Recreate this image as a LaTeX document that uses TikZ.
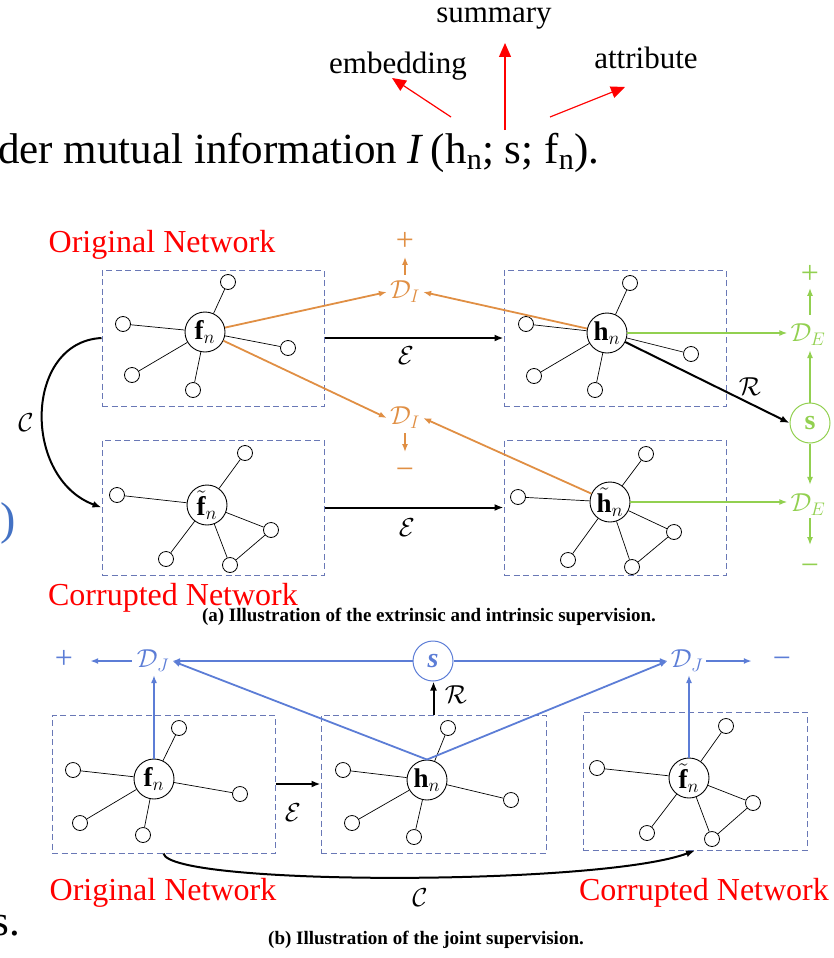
\RequirePackage{fix-cm}
\documentclass[tikz,border=0pt]{standalone}
\usepackage{amsmath}
\usepackage{fontspec}
\setmainfont{Liberation Serif}
\usetikzlibrary{arrows.meta}
\definecolor{orng}{RGB}{224,143,68}
\definecolor{grn}{RGB}{146,208,80}
\definecolor{blu}{RGB}{92,125,214}
\definecolor{boxc}{RGB}{105,120,182}
\definecolor{parenb}{RGB}{68,114,196}
\begin{document}
\begin{tikzpicture}[x=1pt,y=-1pt,
 hub/.style={circle,draw,line width=0.9pt,minimum size=40pt,inner sep=0pt,font=\fontsize{27}{31}\selectfont},
 sat/.style={circle,draw,line width=0.8pt,minimum size=15pt,inner sep=0pt},
 netbox/.style={draw=boxc,dash pattern=on 6pt off 3.5pt,line width=1pt,inner sep=0pt},
 ln/.style={line width=0.7pt},
 blk/.style={line width=2pt,-{Latex[length=9pt,width=7pt]}},
 oarr/.style={draw=orng,line width=1.8pt,-{Latex[length=8pt,width=6pt]}},
 garr/.style={draw=grn,line width=1.8pt,-{Latex[length=8pt,width=6pt]}},
 barr/.style={draw=blu,line width=1.8pt,-{Latex[length=8pt,width=6pt]}},
 lab/.style={font=\fontsize{26}{30}\selectfont,inner xsep=3pt,inner ysep=1pt},
 pm/.style={font=\fontsize{32}{36}\selectfont,inner xsep=3pt,inner ysep=0pt,text height=21.4pt,text depth=0pt},
 redt/.style={text=red,font=\fontsize{32}{36}\selectfont,inner sep=0pt},
 capt/.style={font=\fontsize{19}{23}\selectfont\bfseries,inner sep=0pt},
 topw/.style={font=\fontsize{31}{35}\selectfont,inner sep=0pt},
 bigt/.style={font=\fontsize{43}{49}\selectfont,inner sep=0pt},
 rarr/.style={draw=red,line width=1.2pt,-{Triangle[length=14pt,width=12pt]}},
 sroot/.style={circle,line width=1pt,minimum size=40pt,inner sep=0pt,font=\fontsize{28}{32}\selectfont},
]
\useasboundingbox (0,0) rectangle (833,958);

%%%% top fragment
\node[topw] (sum) at (494,19) {summary};
\node[topw] (emb) at (398,66) {embedding};
\node[topw] (att) at (646,58) {attribute};
\node[bigt,anchor=base west] (mi) at (-2,163) {der mutual information \textit{I}\,(h\textsubscript{n}; s; f\textsubscript{n}).};
\coordinate (t1) at (451,117); \coordinate (u1) at (392,78);
\coordinate (t2) at (505,130); \coordinate (u2) at (505,43);
\coordinate (t3) at (550,117); \coordinate (u3) at (625,87);
\draw[rarr] (t1) -- (u1);
\draw[rarr] (t2) -- (u2);
\draw[rarr] (t3) -- (u3);

%%%% (a)
\node[redt] (on1) at (162,245) {Original Network};
\node[netbox,minimum width=222pt,minimum height=136pt] (A1) at (213,338) {};
\node[netbox,minimum width=222pt,minimum height=136pt] (A2) at (615,338) {};
\node[netbox,minimum width=222pt,minimum height=135pt] (A3) at (213,507.5) {};
\node[netbox,minimum width=222pt,minimum height=135pt] (A4) at (615,507.5) {};

\node[hub] (f1) at (205,332) {$\mathbf{f}_n$};
\foreach \n/\x/\y in {a/228/282,b/123/324,c/288/348,d/132/375,e/193/390}
 {\node[sat] (f1\n) at (\x,\y) {}; \draw[ln] (f1) -- (f1\n);}
\node[hub] (h1) at (607,333) {$\mathbf{h}_n$};
\foreach \n/\x/\y in {a/630/283,b/526/324,c/691/354,d/534/376,e/595/390}
 {\node[sat] (h1\n) at (\x,\y) {}; \draw[ln] (h1) -- (h1\n);}
\node[hub] (f2) at (207,505) {$\tilde{\mathbf{f}}_n$};
\foreach \n/\x/\y in {a/245/453,b/117/495,c/271/530,d/166/559,e/230/565}
 {\node[sat] (f2\n) at (\x,\y) {}; \draw[ln] (f2) -- (f2\n);}
\draw[ln] (f2c) -- (f2e);
\node[hub] (h2) at (610,502) {$\tilde{\mathbf{h}}_n$};
\foreach \n/\x/\y in {a/646/454,b/518/497,c/674/532,d/568/560,e/632/567}
 {\node[sat] (h2\n) at (\x,\y) {}; \draw[ln] (h2) -- (h2\n);}
\draw[ln] (h2c) -- (h2e);

\node[lab,text=orng] (D1) at (405,292) {$\mathcal{D}_I$};
\node[lab,text=orng] (D2) at (405,418) {$\mathcal{D}_I$};
\node[pm,text=orng] (P1) at (405,240) {+};
\node[pm,text=orng] (M1) at (405,469) {−};
\draw[oarr] (f1) -- (D1.west);
\draw[oarr] (f1) -- (D2.west);
\draw[oarr] (h1) -- (D1.east);
\draw[oarr] (h2) -- (D2.east);
\draw[oarr,shorten <=5pt,shorten >=6pt] (D1.north) -- (P1.south);
\draw[oarr,shorten <=3pt,shorten >=6pt] (D2.south) -- (M1.north);

\node[sroot,draw=grn,text=grn] (s1) at (810,423) {$\mathbf{s}$};
\node[lab,text=grn] (DE1) at (808,335) {$\mathcal{D}_E$};
\node[lab,text=grn] (DE2) at (808,505) {$\mathcal{D}_E$};
\node[pm,text=grn] (P2) at (810,273) {+};
\node[pm,text=grn] (M2) at (810,565) {−};
\draw[garr] (h1.east) -- (h1.east -| DE1.west);
\draw[garr] (h2.east) -- (h2.east -| DE2.west);
\draw[garr,shorten >=3pt] (s1.north) -- (s1.north |- DE1.south);
\draw[garr,shorten >=8pt] (s1.south) -- (s1.south |- DE2.north);
\draw[garr,shorten <=8pt,shorten >=4pt] (s1.north |- DE1.north) -- (s1.north |- P2.south);
\draw[garr,shorten <=1pt,shorten >=9pt] (s1.south |- DE2.south) -- (s1.south |- M2.north);

\draw[blk] (A1.east) -- (A2.west);
\draw[blk] (A3.east) -- (A4.west);
\node[lab] (E1) at (406,356) {$\mathcal{E}$};
\node[lab] (E2) at (407,528) {$\mathcal{E}$};
\draw[blk] (h1) -- (s1.west);
\node[lab] (R1) at (750,387) {$\mathcal{R}$};
\draw[blk] (A1.west) .. controls (24,342) and (22,478) .. (A3.west);
\node[lab] (C1) at (26,423) {$\mathcal{C}$};

\node[redt] (cn1) at (173,598) {Corrupted Network};
\node[capt] (capa) at (429,617) {(a) Illustration of the extrinsic and intrinsic supervision.};

%%%% (b)
\node[netbox,minimum width=223pt,minimum height=138pt] (B1) at (163.5,784) {};
\node[netbox,minimum width=225pt,minimum height=138pt] (B2) at (433.5,784) {};
\node[netbox,minimum width=224pt,minimum height=138pt] (B3) at (695,781) {};

\node[hub] (f3) at (154,779) {$\mathbf{f}_n$};
\foreach \n/\x/\y in {a/179/728,b/73/770,c/240/794,d/80/823,e/143/835}
 {\node[sat] (f3\n) at (\x,\y) {}; \draw[ln] (f3) -- (f3\n);}
\node[hub] (h3) at (427,780) {$\mathbf{h}_n$};
\foreach \n/\x/\y in {a/448/728,b/343/770,c/511/800,d/352/823,e/414/837}
 {\node[sat] (h3\n) at (\x,\y) {}; \draw[ln] (h3) -- (h3\n);}
\node[hub] (f4) at (689,778) {$\tilde{\mathbf{f}}_n$};
\foreach \n/\x/\y in {a/726/726,b/597/768,c/753/803,d/647/833,e/712/839}
 {\node[sat] (f4\n) at (\x,\y) {}; \draw[ln] (f4) -- (f4\n);}
\draw[ln] (f4c) -- (f4e);

\node[sroot,draw=blu,text=blu] (s2) at (433,661) {\bfseries\itshape s};
\node[lab,text=blu] (DJ1) at (153,661) {$\mathcal{D}_J$};
\node[lab,text=blu] (DJ2) at (687,661) {$\mathcal{D}_J$};
\node[pm,text=blu] (P3) at (64,658) {+};
\node[pm,text=blu] (M3) at (782,658) {−};
\draw[barr] (s2.west) -- (s2.west -| DJ1.east);
\draw[barr] (s2.east) -- (s2.east -| DJ2.west);
\draw[barr] (h3.north) -- (DJ1.east);
\draw[barr] (h3.north) -- (DJ2.west);
\draw[barr,shorten >=2pt] (f3.north) -- (f3.north |- DJ1.south);
\draw[barr,shorten >=2pt] (f4.north) -- (f4.north |- DJ2.south);
\draw[barr,shorten <=2pt,shorten >=14pt] (DJ1.west) -- (DJ1.west -| P3.east);
\draw[barr,shorten >=18pt] (DJ2.east) -- (DJ2.east -| M3.west);

\draw[blk] (B2.north) -- (B2.north |- s2.south);
\node[lab] (R2) at (456,695) {$\mathcal{R}$};
\draw[blk] (B1.east) -- (B2.west);
\node[lab] (E3) at (293,813) {$\mathcal{E}$};
\draw[blk] (B1.south) .. controls (170,886) and (600,886) .. (B3.south);
\node[lab] (C2) at (420,898) {$\mathcal{C}$};
\node[redt] (on2) at (163,893) {Original Network};
\node[redt] (cn2) at (704,893) {Corrupted Network};
\node[capt] (capb) at (426,940) {(b) Illustration of the joint supervision.};

%%%% clipped fragments at the left edge
\node[font=\fontsize{46}{52}\selectfont,text=parenb,anchor=east,inner sep=0pt] (par) at (16,523) {)};
\node[bigt,anchor=base east] (sdot) at (20,935) {s.};
\end{tikzpicture}
\end{document}
